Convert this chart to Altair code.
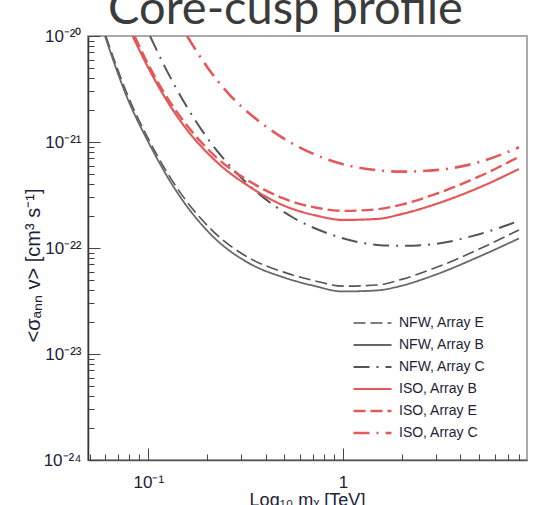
import altair as alt
import pandas as pd

# ---- text ----
title_text = "Core-cusp profile"
x_title = "Log\u2081\u2080 m\u1d6a [TeV]"
y_title = "<\u03c3\u2090\u2099\u2099 v>  [cm\u00b3 s\u207b\u00b9]"

# ---- series ----
series_names = ["NFW, Array E", "NFW, Array B", "NFW, Array C",
                "ISO, Array B", "ISO, Array E", "ISO, Array C"]
series_colors = ["#555555", "#676767", "#555555", "#e4585a", "#e4585a", "#e4585a"]
series_dash = [[12, 5], [1, 0], [16, 7, 2, 7], [1, 0], [12, 5], [16, 7, 2, 7]]
series_width = [1.6, 2.6, 1.6, 1.6, 1.6, 1.6]

m_nfw_e = [0.0605, 0.0776, 0.1, 0.14, 0.214, 0.33, 0.5, 0.7, 1.0, 1.5, 2.0, 3.0, 5.0, 8.0]
v_nfw_e = [1e-20, 2.88e-21, 1.07e-21, 3.72e-22, 1.45e-22, 8.04e-23, 5.89e-23, 4.95e-23,
           4.37e-23, 4.47e-23, 5.06e-23, 6.53e-23, 9.77e-23, 1.48e-22]

m_nfw_b = [0.0599, 0.0776, 0.1, 0.14, 0.214, 0.33, 0.5, 0.7, 1.0, 1.5, 2.0, 3.0, 5.0, 8.0]
v_nfw_b = [1e-20, 2.66e-21, 1.0e-21, 3.39e-22, 1.29e-22, 7.16e-23, 5.25e-23, 4.42e-23,
           3.89e-23, 3.98e-23, 4.41e-23, 5.62e-23, 8.3e-23, 1.23e-22]

m_nfw_c = [0.102, 0.12, 0.15, 0.2, 0.27, 0.37, 0.55, 0.83, 1.2, 1.5, 2.0, 3.0, 5.0, 8.0]
v_nfw_c = [1e-20, 5.37e-21, 2.51e-21, 1.10e-21, 5.62e-22, 3.24e-22, 1.95e-22, 1.38e-22,
           1.135e-22, 1.07e-22, 1.047e-22, 1.096e-22, 1.35e-22, 1.80e-22]

m_iso_b = [0.083, 0.1, 0.12, 0.15, 0.225, 0.33, 0.49, 0.73, 1.0, 1.5, 2.0, 3.0, 5.0, 8.0]
v_iso_b = [1e-20, 5.01e-21, 2.75e-21, 1.48e-21, 6.46e-22, 3.80e-22, 2.54e-22, 2.02e-22,
           1.84e-22, 1.88e-22, 2.09e-22, 2.60e-22, 3.72e-22, 5.56e-22]

m_iso_e = [0.085, 0.1, 0.12, 0.15, 0.225, 0.33, 0.49, 0.73, 1.0, 1.5, 2.0, 3.0, 5.0, 8.0]
v_iso_e = [1e-20, 5.37e-21, 2.95e-21, 1.62e-21, 7.08e-22, 4.27e-22, 2.95e-22, 2.40e-22,
           2.24e-22, 2.32e-22, 2.57e-22, 3.24e-22, 4.73e-22, 7.24e-22]

m_iso_c = [0.158, 0.2, 0.26, 0.35, 0.47, 0.7, 1.0, 1.4, 2.0, 3.0, 5.0, 8.0]
v_iso_c = [1e-20, 5.13e-21, 2.82e-21, 1.70e-21, 1.15e-21, 7.76e-22, 6.17e-22, 5.50e-22,
           5.25e-22, 5.43e-22, 6.46e-22, 8.91e-22]

series_m = [m_nfw_e, m_nfw_b, m_nfw_c, m_iso_b, m_iso_e, m_iso_c]
series_v = [v_nfw_e, v_nfw_b, v_nfw_c, v_iso_b, v_iso_e, v_iso_c]

# ---- axes ----
x_domain = [0.049, 8.8]
y_domain = [1e-24, 1e-20]
x_major = [0.1, 1]
x_tick_labels = ["10\u207b\u00b9", "1"]
x_minor = [0.05, 0.06, 0.07, 0.08, 0.09, 0.2, 0.3, 0.4, 0.5, 0.6, 0.7, 0.8, 0.9,
           2, 3, 4, 5, 6, 7, 8]
y_major = [1e-24, 1e-23, 1e-22, 1e-21, 1e-20]
y_tick_labels = ["10\u207b\u00b2\u2074", "10\u207b\u00b2\u00b3", "10\u207b\u00b2\u00b2",
                 "10\u207b\u00b2\u00b9", "10\u207b\u00b2\u2070"]
y_minor = [k * 10.0 ** e for e in (-24, -23, -22, -21) for k in range(2, 10)]

rows = []
for name, ms, vs in zip(series_names, series_m, series_v):
    for m, v in zip(ms, vs):
        rows.append({"series": name, "m": m, "v": v})
df = pd.DataFrame(rows)

W, H = 439, 424
FONT = "Liberation Sans"
TXT = "#1e2236"

xscale = alt.Scale(type="log", domain=x_domain, nice=False)
yscale = alt.Scale(type="log", domain=y_domain, nice=False)

x_label_expr = "datum.value < 0.5 ? '%s' : '%s'" % (x_tick_labels[0], x_tick_labels[1])
y_label_expr = "[" + ",".join("'%s'" % s for s in y_tick_labels) + "][round(log(datum.value)/LN10)+24]"

legend = alt.Legend(title=None, orient="none", legendX=264, legendY=277,
                    symbolType="stroke", symbolSize=1444, clipHeight=20, rowPadding=2,
                    labelFont=FONT, labelFontSize=14, labelColor=TXT, labelOffset=6,
                    padding=0)

lines = alt.Chart(df).mark_line(clip=True, interpolate="monotone").encode(
    x=alt.X("m:Q", scale=xscale,
            axis=alt.Axis(orient="bottom", values=x_major, labelExpr=x_label_expr,
                          ticks=False, grid=False, domainColor="#555555", domainWidth=1.5,
                          labelFont=FONT, labelFontSize=17, labelColor=TXT, labelPadding=14,
                          title=x_title, titleX=219, titleY=40, titleBaseline="middle",
                          titleFont=FONT, titleFontSize=18, titleFontWeight="normal",
                          titleColor=TXT)),
    y=alt.Y("v:Q", scale=yscale,
            axis=alt.Axis(orient="left", values=y_major, labelExpr=y_label_expr,
                          ticks=False, grid=False, domainColor="#333333", domainWidth=1.5,
                          labelFont=FONT, labelFontSize=17, labelColor=TXT, labelPadding=7,
                          title=y_title, titleX=-55, titleY=229, titleAngle=-90,
                          titleAlign="center", titleBaseline="middle",
                          titleFont=FONT, titleFontSize=20, titleFontWeight="normal",
                          titleColor=TXT)),
    color=alt.Color("series:N", scale=alt.Scale(domain=series_names, range=series_colors),
                    legend=legend),
    strokeDash=alt.StrokeDash("series:N", scale=alt.Scale(domain=series_names, range=series_dash),
                              legend=legend),
    strokeWidth=alt.StrokeWidth("series:N", scale=alt.Scale(domain=series_names, range=series_width),
                                legend=legend),
)


def tick_layer(xv, yv, size):
    return alt.Chart(df).mark_point(opacity=0).encode(
        x=alt.X("m:Q", scale=xscale,
                axis=alt.Axis(orient="bottom", values=xv, labels=False, domain=False,
                              ticks=True, tickSize=alt.ExprRef(expr=str(-size)),
                              tickColor="#444444", tickWidth=1, grid=False, title=None)),
        y=alt.Y("v:Q", scale=yscale,
                axis=alt.Axis(orient="left", values=yv, labels=False, domain=False,
                              ticks=True, tickSize=alt.ExprRef(expr=str(-size)),
                              tickColor="#444444", tickWidth=1, grid=False, title=None)),
    )


minor_ticks = tick_layer(x_minor, y_minor, 6)
major_ticks = tick_layer(x_major, y_major, 12)

chart = alt.layer(lines, minor_ticks, major_ticks).resolve_axis(
    x="independent", y="independent"
).properties(
    width=W, height=H,
    title=alt.TitleParams(title_text, font="Lato", fontSize=47, fontWeight="normal",
                          color="#3b3b3b", anchor="middle", frame="group",
                          baseline="alphabetic", offset=0, dx=-22, dy=44),
    padding={"left": 88, "top": 36, "right": 20, "bottom": 45},
    autosize=alt.AutoSizeParams(type="none"),
    background="white",
).configure_view(stroke="#aaaaaa", strokeWidth=2)

chart.save("out.html", embed_options={"renderer": "svg", "actions": False})
